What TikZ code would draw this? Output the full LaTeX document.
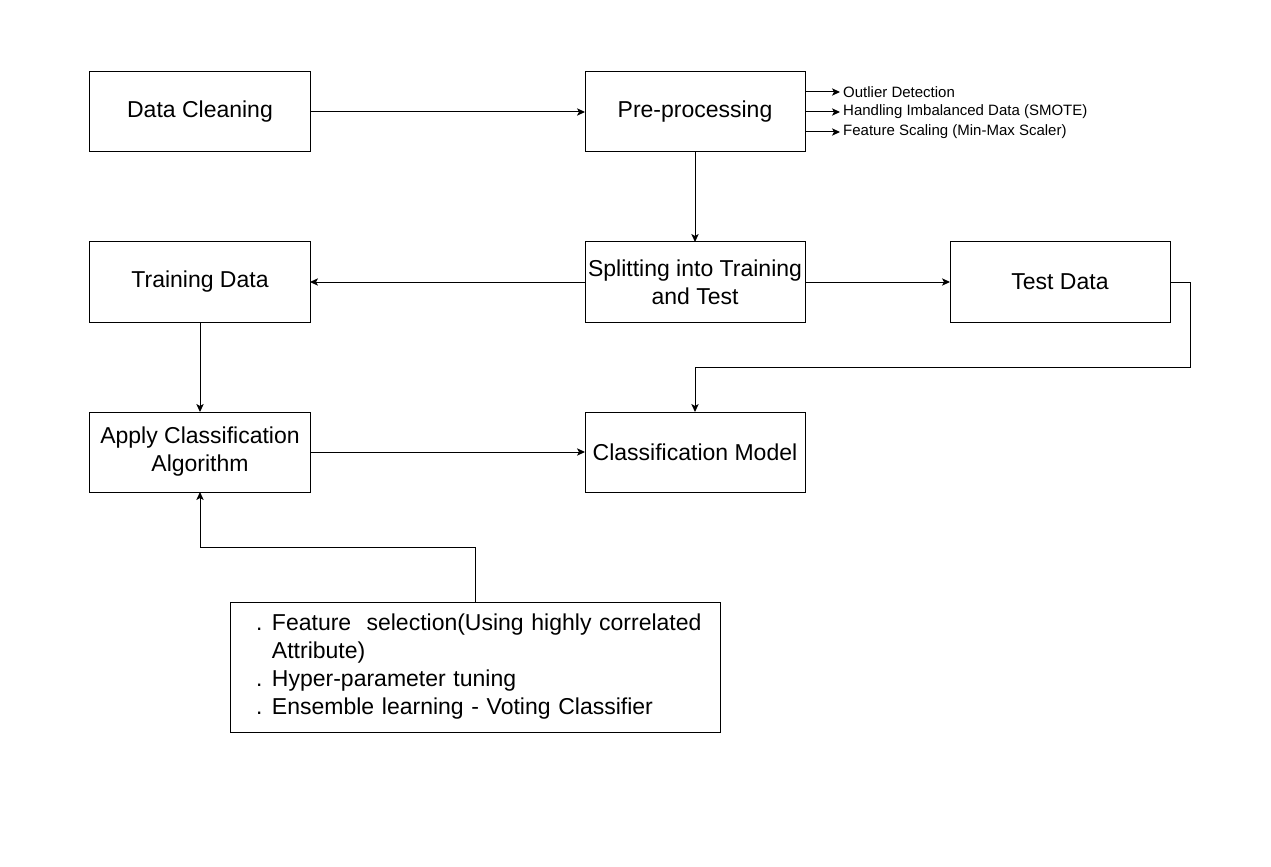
\documentclass[tikz,border=0pt]{standalone}
\usepackage{fontspec}
\setmainfont{Liberation Sans}
\usetikzlibrary{arrows.meta,positioning}

\newcommand{\listdot}{\hspace*{19.5pt}\makebox[12pt][l]{\fontsize{17}{17}\selectfont .}}
\newcommand{\listgap}{\hspace*{31.5pt}}

\begin{document}
\begin{tikzpicture}[->,>={Stealth[length=6pt,width=5.5pt,inset=1.5pt]},line width=0.75pt,
	block/.style={draw=black,rectangle,outer sep=0pt,minimum width=165pt,minimum height=60pt,inner sep=2pt,align=center,font=\fontsize{17.25}{21}\selectfont},
	note/.style={inner sep=2pt,font=\fontsize{11.25}{13}\selectfont},
	listbox/.style={draw=black,rectangle,outer sep=0pt,minimum width=367.5pt,minimum height=97.5pt,text width=367.5pt,inner xsep=0pt,align=left,font=\fontsize{17.25}{21}\selectfont}]
	\fill[white,-] (-150pt,84pt) rectangle (803.25pt,-566.25pt);
	\useasboundingbox (-150pt,84pt) rectangle (803.25pt,-566.25pt);

	\node[block]	(clean)							{Data Cleaning};
	\node[block]	(pre)		[right=206.25pt of clean]		{Pre-processing};
	\node[block]	(split)		[below=67.5pt of pre]			{Splitting into Training\\and Test};
	\node[block]	(train)		[below=67.5pt of clean]			{Training Data};
	\node[block]	(test)		[right=108.75pt of split]		{Test Data};
	\node[block]	(apply)		[below=67.5pt of train]			{Apply Classification\\Algorithm};
	\node[block]	(model)		[below=67.5pt of split]			{Classification Model};
	\node[listbox]	(tuning)	[below=82.5pt of apply,xshift=206.25pt]	{\listdot Feature\ \ selection(Using highly correlated\\\listgap Attribute)\\\listdot Hyper-parameter tuning\\\listdot Ensemble learning - Voting Classifier};

	\node[note]	(outlier)	[right=26.25pt of pre.east,yshift=15pt]		{Outlier Detection};
	\node[note]	(smote)		[right=26.25pt of pre.east]			{Handling Imbalanced Data (SMOTE)};
	\node[note]	(scaling)	[right=26.25pt of pre.east,yshift=-15pt]	{Feature Scaling (Min-Max Scaler)};

	\path
		(clean)		edge	(pre)
		(pre)		edge	(split)
		(split)		edge	(train)
		(split)		edge	(test)
		(train)		edge	(apply)
		(apply)		edge	(model)
		(pre.east |- outlier.west)	edge	(outlier.west)
		(pre.east |- smote.west)	edge	(smote.west)
		(pre.east |- scaling.west)	edge	(scaling.west)
	;
	\draw (test.east) -- ++(15pt,0) |- ([yshift=33.75pt]model.north) -- (model.north);
	\draw (tuning.north) -- ++(0,41.25pt) -| (apply.south);
\end{tikzpicture}
\end{document}
